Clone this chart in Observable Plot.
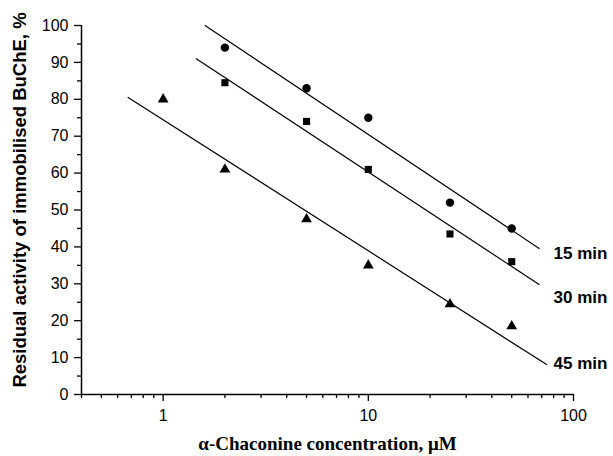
<!DOCTYPE html>
<html>
<head>
<meta charset="utf-8">
<script src="https://cdn.jsdelivr.net/npm/d3@7"></script>
<script src="https://cdn.jsdelivr.net/npm/@observablehq/plot@0.6"></script>
<style>
  html, body { margin: 0; padding: 0; background: #fff; }
</style>
</head>
<body>
<div id="chart"></div>
<script>
// Concentrations (µM)
const conc15 = [2, 5, 10, 25, 50];
const act15 = [94, 83, 75, 52, 45];
const conc30 = [2, 5, 10, 25, 50];
const act30 = [84.5, 74, 61, 43.5, 36];
const conc45 = [1, 2, 5, 10, 25, 50];
const act45 = [80, 61, 47.5, 35, 24.5, 18.5];

// Fitted line end points
const fit15 = [[1.6, 100], [68, 39.6]];
const fit30 = [[1.45, 91], [68, 29.8]];
const fit45 = [[0.675, 80.5], [74, 8.1]];

const seriesLabels = ["15 min", "30 min", "45 min"];
const labelX = [80, 80, 80];
const labelY = [38.2, 26.3, 8.4];

const xMajor = [1, 10, 100];
const xMinor = [0.4, 0.5, 0.6, 0.7, 0.8, 0.9, 2, 3, 4, 5, 6, 7, 8, 9, 20, 30, 40, 50, 60, 70, 80, 90];
const yMajor = [0, 10, 20, 30, 40, 50, 60, 70, 80, 90, 100];
const yMinor = [5, 15, 25, 35, 45, 55, 65, 75, 85, 95];

const yTitle = "Residual activity of immobilised BuChE, %";
const xTitle = "α-Chaconine concentration, μM";

const toPts = (xs, ys) => xs.map((x, i) => ({x, y: ys[i]}));
const toLine = (arr) => arr.map(([x, y]) => ({x, y}));

const sans = "'Liberation Sans', Arial, sans-serif";
const serif = "'Liberation Serif', 'Times New Roman', serif";

const chart = Plot.plot({
  width: 613,
  height: 456,
  marginLeft: 81,
  marginRight: 40,
  marginTop: 25,
  marginBottom: 62,
  style: {fontFamily: sans, background: "#fff", color: "#000"},
  x: {type: "log", domain: [0.4, 100]},
  y: {domain: [0, 100]},
  marks: [
    Plot.axisX(xMajor, {tickSize: 7, tickPadding: 8, tickFormat: d => String(d), fontSize: 16, label: null, strokeWidth: 1.3}),
    Plot.axisX(xMinor, {tickSize: 4, text: null, label: null, strokeWidth: 1.3}),
    Plot.axisY(yMajor, {tickSize: 7, tickPadding: 6, tickFormat: d => String(d), fontSize: 16, label: null, strokeWidth: 1.3}),
    Plot.axisY(yMinor, {tickSize: 4, text: null, label: null, strokeWidth: 1.3}),
    Plot.ruleY([0], {stroke: "#000", strokeWidth: 1.5}),
    Plot.ruleX([0.4], {stroke: "#000", strokeWidth: 1.5}),
    Plot.line(toLine(fit15), {x: "x", y: "y", stroke: "#000", strokeWidth: 1.2}),
    Plot.line(toLine(fit30), {x: "x", y: "y", stroke: "#000", strokeWidth: 1.2}),
    Plot.line(toLine(fit45), {x: "x", y: "y", stroke: "#000", strokeWidth: 1.2}),
    Plot.dot(toPts(conc15, act15), {x: "x", y: "y", symbol: "circle", r: 4.2, fill: "#000"}),
    Plot.dot(toPts(conc30, act30), {x: "x", y: "y", symbol: "square", r: 4, fill: "#000"}),
    Plot.dot(toPts(conc45, act45), {x: "x", y: "y", symbol: "triangle", r: 4, fill: "#000"}),
    Plot.text(seriesLabels.map((t, i) => ({t, x: labelX[i], y: labelY[i]})), {
      x: "x", y: "y", text: "t", textAnchor: "start", fontWeight: "bold", fontSize: 17, fill: "#000", fontFamily: sans
    }),
    Plot.text([yTitle], {
      frameAnchor: "left", textAnchor: "middle", lineAnchor: "middle", rotate: -90, dx: -61, dy: -10,
      fontWeight: "bold", fontSize: 18.5, fill: "#000", fontFamily: sans
    }),
    Plot.text([xTitle], {
      frameAnchor: "bottom", lineAnchor: "middle", dy: 49, fontWeight: "bold", fontSize: 19, fill: "#000", fontFamily: serif
    })
  ]
});
document.getElementById("chart").appendChild(chart);
</script>
</body>
</html>
